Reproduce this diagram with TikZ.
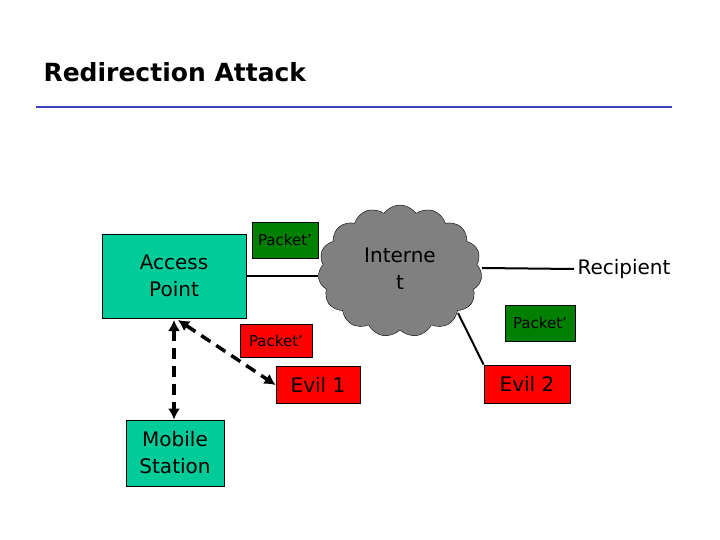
\documentclass[tikz,border=0pt]{standalone}
\usepackage{fontspec}
\setmainfont{DejaVu Sans}
\usetikzlibrary{shapes.symbols,arrows.meta}
\definecolor{teal1}{RGB}{0,204,153}
\definecolor{grn}{RGB}{0,128,0}
\definecolor{cloudgray}{RGB}{128,128,128}
\definecolor{titleblue}{RGB}{64,64,192}
\begin{document}
\begin{tikzpicture}[x=1pt,y=-1pt,
  box/.style={draw=black,line width=0.8pt,inner sep=1pt,align=center},
  big/.style={font=\fontsize{20}{27}\selectfont},
  small/.style={font=\fontsize{15}{18}\selectfont},
  dasharrow/.style={line width=3.5pt,dash pattern=on 11pt off 7pt,{Latex[length=11pt,width=12pt]}-{Latex[length=11pt,width=12pt]}}]
\useasboundingbox (0,0) rectangle (720,540);
\node[anchor=west,font=\bfseries\fontsize{25}{30}\selectfont] (title) at (40,72) {Redirection Attack};
\draw[titleblue,line width=2.5pt] (36,107) -- (672,107);
\node[box,big,fill=teal1,minimum width=144pt,minimum height=84pt] (ap) at (174,276) {Access\\Point};
\node[cloud,big,cloud puffs=15,cloud puff arc=110,aspect=1.25,draw=black,fill=cloudgray,minimum width=164pt,minimum height=132pt,align=center] (net) at (400,271) {\raisebox{-12pt}{\begin{tabular}{@{}c@{}}Interne\\t\end{tabular}}};
\node[big] (rec) at (624,269) {Recipient};
\node[box,small,fill=grn,minimum width=66pt,minimum height=36pt] (p1) at (285,240) {Packet'};
\node[box,small,fill=grn,minimum width=70pt,minimum height=36pt] (p2) at (540,323) {Packet'};
\node[box,small,fill=red,minimum width=72pt,minimum height=33pt] (p3) at (276,341) {Packet'};
\node[box,big,fill=red,minimum width=84pt,minimum height=37pt] (e1) at (318,385) {Evil 1};
\node[box,big,fill=red,minimum width=86pt,minimum height=38pt] (e2) at (527,384) {Evil 2};
\node[box,big,fill=teal1,minimum width=98pt,minimum height=66pt] (ms) at (175,453) {Mobile\\Station};
\draw[line width=2pt] (ap.east |- 0,276) -- (318,276);
\draw[line width=2pt] (482,268) -- (rec.west);
\draw[line width=2pt] (458,313) -- (e2.north west);
\draw[dasharrow] (174,320) -- (ms.north -| 174,0);
\draw[dasharrow] (178,320) -- (e1.west);
\end{tikzpicture}
\end{document}
